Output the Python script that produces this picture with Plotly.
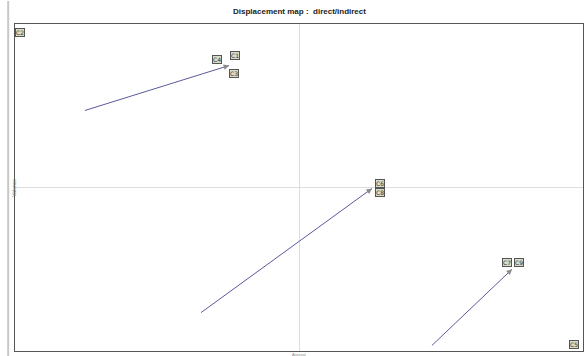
import plotly.graph_objects as go

# Displacement vectors: start (indirect) -> end (direct)
start_x = [-0.754, -0.345, 0.468]
start_y = [0.471, -0.765, -0.966]
end_x = [-0.246, 0.257, 0.750]
end_y = [0.746, -0.006, -0.500]

# Category markers
label_text = ["C2", "C4", "C1", "C3", "C6", "C8", "C7", "C9", "C5"]
label_x = [-0.982, -0.289, -0.225, -0.229, 0.285, 0.285, 0.732, 0.775, 0.968]
label_y = [0.951, 0.783, 0.807, 0.697, 0.024, -0.031, -0.459, -0.459, -0.960]

line_color = "#5a5a9c"

fig = go.Figure()

for sx, sy, ex, ey in zip(start_x, start_y, end_x, end_y):
    fig.add_trace(go.Scatter(x=[sx, ex], y=[sy, ey], mode="lines",
                             line=dict(color=line_color, width=1),
                             hoverinfo="skip", showlegend=False))

annotations = []
# small arrowheads at the end of each vector (tail placed just behind the tip)
for sx, sy, ex, ey in zip(start_x, start_y, end_x, end_y):
    annotations.append(dict(x=ex, y=ey, ax=ex - 0.04 * (ex - sx), ay=ey - 0.04 * (ey - sy),
                            xref="x", yref="y", axref="x", ayref="y", text="",
                            showarrow=True, arrowhead=2, arrowsize=1.1, arrowwidth=1,
                            arrowcolor="#8a8a8a"))

for t, lx, ly in zip(label_text, label_x, label_y):
    annotations.append(dict(x=lx, y=ly, xref="x", yref="y", text=t,
                            showarrow=False, bgcolor="#d9dcc8",
                            bordercolor="#555555", borderwidth=1, borderpad=0,
                            font=dict(size=6, color="#333333", family="DejaVu Sans")))

annotations.append(dict(x=0.5, y=1, xref="paper", yref="paper", yanchor="bottom",
                        yshift=6, text="<b>Displacement map :  direct/indirect</b>",
                        showarrow=False,
                        font=dict(size=8, color="#222222", family="Liberation Sans")))
annotations.append(dict(x=-0.012, y=0.5, xref="paper", yref="paper", text="Valence",
                        textangle=-90, showarrow=False,
                        font=dict(size=5, color="#777777", family="Liberation Sans")))
annotations.append(dict(x=0.5, y=0, xref="paper", yref="paper", yanchor="top",
                        yshift=1, text="Arousal", showarrow=False,
                        font=dict(size=4, color="#888888", family="Liberation Sans")))

fig.update_layout(
    width=584, height=356,
    margin=dict(l=15, r=1, t=24, b=5),
    paper_bgcolor="white", plot_bgcolor="white",
    annotations=annotations,
    shapes=[dict(type="line", xref="paper", yref="paper", x0=-0.012, x1=-0.012,
                 y0=-0.02, y1=1.07, line=dict(color="#c8c8c8", width=2))],
)
fig.update_xaxes(range=[-1, 1], showgrid=False, zeroline=True, zerolinecolor="#dddddd",
                 zerolinewidth=1, showticklabels=False, ticks="", showline=True,
                 mirror=True, linecolor="#555555", linewidth=1)
fig.update_yaxes(range=[-1, 1], showgrid=False, zeroline=True, zerolinecolor="#dddddd",
                 zerolinewidth=1, showticklabels=False, ticks="", showline=True,
                 mirror=True, linecolor="#555555", linewidth=1)

fig.write_html("out.html")
